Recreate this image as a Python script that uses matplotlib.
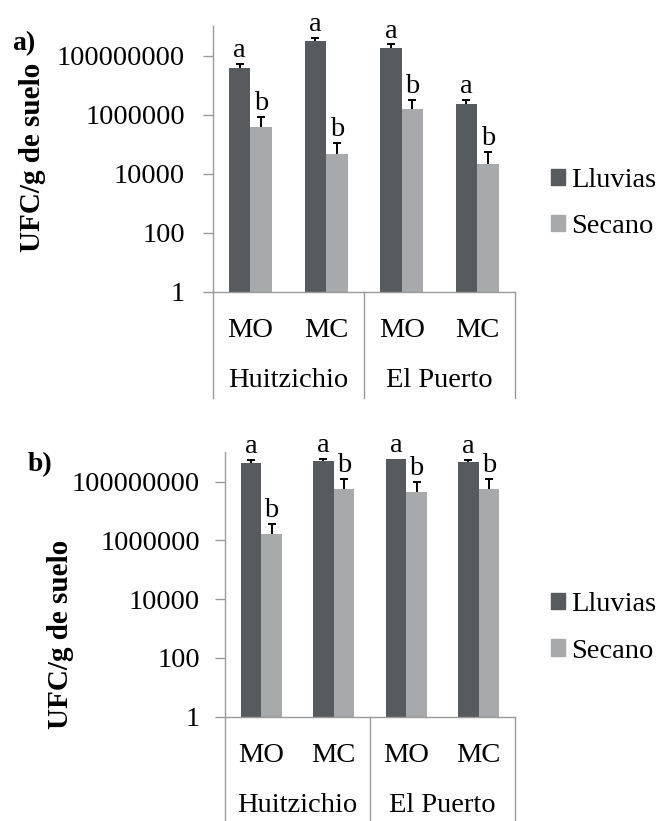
import matplotlib
matplotlib.use('Agg')
import matplotlib.pyplot as plt
import numpy as np
from matplotlib.patches import Patch
from matplotlib.ticker import NullLocator

plt.rcParams['font.family'] = ['Liberation Serif', 'DejaVu Serif']

# categories
tratamientos = ['MO', 'MC', 'MO', 'MC']
sitios = ['Huitzichio', 'El Puerto']
series_names = ['Lluvias', 'Secano']
y_ticks = [1, 100, 10000, 1000000, 100000000]

# panel a) UFC/g values and upper error
lluvias_a = [3.9e7, 3.1e8, 1.8e8, 2.3e6]
lluvias_a_err = [1.5e7, 0.8e8, 0.6e8, 0.8e6]
secano_a = [3.7e5, 4.8e4, 1.5e6, 2.2e4]
secano_a_err = [4.5e5, 6.2e4, 1.7e6, 3.1e4]
letras_lluvias_a = ['a', 'a', 'a', 'a']
letras_secano_a = ['b', 'b', 'b', 'b']

# panel b)
lluvias_b = [4.2e8, 5.1e8, 5.9e8, 4.6e8]
lluvias_b_err = [1.1e8, 0.6e8, 0.0, 1.0e8]
secano_b = [1.6e6, 5.7e7, 4.3e7, 5.7e7]
secano_b_err = [1.9e6, 6.7e7, 5.3e7, 6.3e7]
letras_lluvias_b = ['a', 'a', 'a', 'a']
letras_secano_b = ['b', 'b', 'b', 'b']

DARK = '#585b5d'
LIGHT = '#a7a9aa'
GRAY = '#9a9a9a'
FS = 20.5


def draw_panel(ax, lluvias, lluvias_err, secano, secano_err, letras_ll, letras_se, tick_pad):
    x = np.arange(len(tratamientos))
    w = 0.285
    for offset, vals, errs, color, letras in [(-w / 2, lluvias, lluvias_err, DARK, letras_ll),
                                              (w / 2, secano, secano_err, LIGHT, letras_se)]:
        vals = np.array(vals)
        errs = np.array(errs)
        ax.bar(x + offset, vals, w, color=color, zorder=2)
        m = errs > 0
        eb = ax.errorbar(x[m] + offset, vals[m], yerr=[np.zeros(m.sum()), errs[m]], fmt='none',
                         ecolor='black', elinewidth=1.4, capsize=3, capthick=1.4, zorder=3)
        # only the upper cap, like the excel "plus" error bars
        eb[1][0].set_visible(False)
        for xi, v, e, l in zip(x + offset, vals, errs, letras):
            ax.annotate(l, xy=(xi, v + e), xytext=(0, 5), textcoords='offset points',
                        ha='center', va='baseline', fontsize=FS, annotation_clip=False)

    ax.set_yscale('log')
    ax.set_ylim(1, 1e9)
    ax.set_xlim(-0.5, 3.5)
    ax.set_yticks(y_ticks)
    ax.set_yticklabels([str(t) for t in y_ticks])
    ax.yaxis.set_minor_locator(NullLocator())
    ax.set_xticks(x)
    ax.set_xticklabels(tratamientos)
    ax.tick_params(axis='y', length=7, width=1, color=GRAY, pad=tick_pad, labelsize=FS)
    ax.tick_params(axis='x', length=0, pad=19, labelsize=FS)
    for s in ['top', 'right']:
        ax.spines[s].set_visible(False)
    for s in ['left', 'bottom']:
        ax.spines[s].set_color(GRAY)
        ax.spines[s].set_linewidth(1)

    # category table lines below the axis
    for xl in [0, 0.5, 1]:
        ax.plot([xl, xl], [0, -0.4], transform=ax.transAxes, color=GRAY, lw=1, clip_on=False)
    for i, sitio in enumerate(sitios):
        ax.annotate(sitio, xy=(2 * i + 0.5, 0), xycoords=('data', 'axes fraction'),
                    xytext=(0, -64), textcoords='offset points', ha='center', va='center',
                    fontsize=FS)


fig = plt.figure(figsize=(6.63, 8.21), dpi=100)
ax1 = fig.add_axes([0.3208, 0.6447, 0.456, 0.3234])
ax2 = fig.add_axes([0.3394, 0.1270, 0.4374, 0.3223])

draw_panel(ax1, lluvias_a, lluvias_a_err, secano_a, secano_a_err, letras_lluvias_a, letras_secano_a, 13)
draw_panel(ax2, lluvias_b, lluvias_b_err, secano_b, secano_b_err, letras_lluvias_b, letras_secano_b, 11)

fig.text(33 / 663, 1 - 157 / 821, 'UFC/g de suelo', rotation=90, ha='center', va='center',
         fontsize=21, fontweight='bold')
fig.text(60 / 663, 1 - 634 / 821, 'UFC/g de suelo', rotation=90, ha='center', va='center',
         fontsize=21, fontweight='bold')
fig.text(24 / 663, 1 - 44 / 821, 'a)', ha='center', va='center', fontsize=20, fontweight='bold')
fig.text(40 / 663, 1 - 465 / 821, 'b)', ha='center', va='center', fontsize=20, fontweight='bold')

handles = [Patch(color=DARK), Patch(color=LIGHT)]
for yc in [203.5, 628]:
    fig.legend(handles, series_names, loc='center left', bbox_to_anchor=(551 / 663, 1 - yc / 821),
               frameon=False, fontsize=FS, handlelength=0.5, handleheight=0.5,
               handletextpad=0.2, labelspacing=0.75, borderpad=0, borderaxespad=0)

fig.savefig('out.png', dpi=100)
